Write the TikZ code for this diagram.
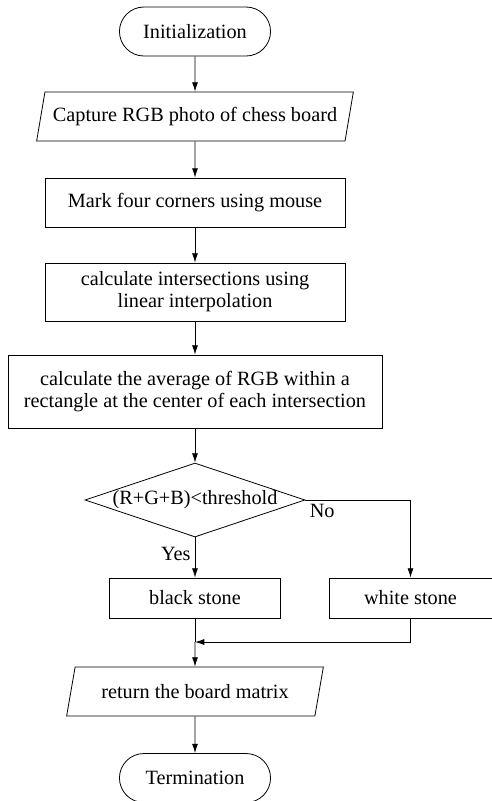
\documentclass[tikz,border=0pt]{standalone}
\usepackage{fontspec}
\setmainfont{Liberation Serif}
\usetikzlibrary{shapes.geometric,shapes.misc,arrows.meta}

\tikzset{
  every node/.style={font=\fontsize{15.2}{16.5}\selectfont},
  flow/.style={line width=0.6pt,-{Latex[length=7pt,width=4.5pt]}},
  termbox/.style={draw,line width=0.6pt,rounded rectangle,minimum width=120pt,minimum height=36.75pt},
  iobox/.style={draw,line width=0.6pt,trapezium,trapezium left angle=74,trapezium right angle=106,
    trapezium stretches=true,minimum height=36.75pt,inner xsep=0pt},
  procbox/.style={draw,line width=0.6pt,rectangle,align=center,inner sep=0pt},
  testbox/.style={draw,line width=0.6pt,diamond,inner sep=0pt,minimum width=165pt,minimum height=55.5pt}
}

\begin{document}
\begin{tikzpicture}[x=0.75pt,y=-0.75pt]
\useasboundingbox (0,0) rectangle (492,801);

\node[termbox] (init) at (195,31.5) {Initialization};
\node[iobox,minimum width=237.75pt] (capture) at (195,116.5) {Capture RGB photo of chess board};
\node[procbox,minimum width=225pt,minimum height=36.75pt] (mark) at (195,202.5) {Mark four corners using mouse};
\node[procbox,minimum width=225pt,minimum height=43.5pt] (inter) at (195,292)
  {calculate intersections using\\linear interpolation};
\node[procbox,minimum width=280.5pt,minimum height=54.75pt] (avg) at (195,391.5)
  {calculate the average of RGB within a\\rectangle at the center of each intersection};
\node[testbox] (test) at (195,500) {\makebox[0pt]{(R+G+B)<threshold}};
\node[procbox,minimum width=128.25pt,minimum height=30pt] (black) at (195,598) {black stone};
\node[procbox,minimum width=122.25pt,minimum height=30pt] (white) at (410.5,598) {white stone};
\node[iobox,minimum width=192.75pt] (return) at (195,691.5) {return the board matrix};
\node[termbox] (term) at (195,778) {Termination};

\coordinate (join) at (195,642);

\draw[flow] (init) -- (capture);
\draw[flow] (capture) -- (mark);
\draw[flow] (mark) -- (inter);
\draw[flow] (inter) -- (avg);
\draw[flow] (avg) -- (test);
\draw[flow] (test.south) -- node[pos=0.42,left,inner sep=3pt]{Yes} (black);
\draw[flow] (test.east) node[below right,inner sep=3pt]{No} -| (white.north);
\draw[line width=0.6pt] (black.south) -- (join);
\draw[flow] (join) -- (return);
\draw[flow] (white.south) |- (join);
\draw[flow] (return) -- (term);
\end{tikzpicture}
\end{document}
